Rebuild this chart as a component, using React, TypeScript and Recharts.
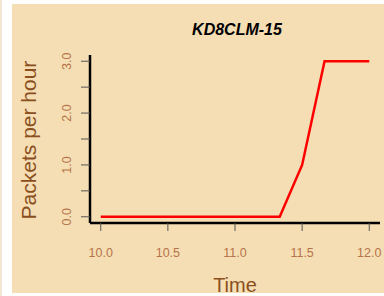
import React from "react";
import { LineChart, Line, XAxis, YAxis } from "recharts";

// time in hours, one sample every 10 minutes
const times = [10, 10.167, 10.333, 10.5, 10.667, 10.833, 11, 11.167, 11.333, 11.5, 11.667, 11.833, 12];
const packets = [0, 0, 0, 0, 0, 0, 0, 0, 0, 1, 3, 3, 3];

const xTicks = [10, 10.5, 11, 11.5, 12];
const yTicks = [0, 0.5, 1, 1.5, 2, 2.5, 3];
const yLabeled = [0, 1, 2, 3];

const data = times.map((t, i) => ({ t, v: packets[i] }));

const FONT = "'Liberation Sans', Arial, Helvetica, sans-serif";
const TICK_COLOR = "#b5744a";
const TITLE_COLOR = "#8b4f1e";

function XTick({ x, y, payload }: any) {
  return (
    <text x={x} y={y + 20} textAnchor="middle" dominantBaseline="central" fontSize={12.5} fontFamily={FONT} fill={TICK_COLOR}>
      {payload.value.toFixed(1)}
    </text>
  );
}

function YTick({ x, y, payload }: any) {
  if (!yLabeled.includes(payload.value)) return null;
  const cx = x - 12;
  return (
    <text x={cx} y={y} transform={`rotate(-90 ${cx} ${y})`} textAnchor="middle" dominantBaseline="central" fontSize={12.5} fontFamily={FONT} fill={TICK_COLOR}>
      {payload.value.toFixed(1)}
    </text>
  );
}

export default function App() {
  return (
    <div style={{ position: "relative", width: 384, height: 296, background: "#fff", overflow: "hidden", fontFamily: FONT }}>
      <style>{`body { margin: 0; }`}</style>
      <div style={{ position: "absolute", left: 0, top: 0, width: 2, height: 296, background: "#f3e6d2" }} />
      <div style={{ position: "absolute", left: 12, top: 4, width: 372, height: 289, background: "#f5deb3" }}>
        <LineChart width={372} height={289} data={data} margin={{ top: 51, right: 4, left: 0, bottom: 0 }}>
          <XAxis
            dataKey="t"
            type="number"
            domain={[9.92, 12.08]}
            ticks={xTicks}
            height={70}
            tick={<XTick />}
            tickSize={8}
            tickLine={{ stroke: "#555", strokeWidth: 1 }}
            axisLine={{ stroke: "#000", strokeWidth: 2.5 }}
          />
          <YAxis
            type="number"
            domain={[-0.12, 3.12]}
            ticks={yTicks}
            width={78}
            tick={<YTick />}
            tickSize={9}
            tickLine={{ stroke: "#555", strokeWidth: 1 }}
            axisLine={{ stroke: "#000", strokeWidth: 2.5 }}
          />
          <Line dataKey="v" stroke="#ff0000" strokeWidth={2.5} dot={false} isAnimationActive={false} />
        </LineChart>
        <div style={{ position: "absolute", left: 0, width: 372, textAlign: "center", top: 16, paddingLeft: 78, boxSizing: "border-box", fontSize: 16, fontWeight: "bold", fontStyle: "italic", color: "#000", lineHeight: "20px" }}>
          KD8CLM-15
        </div>
        <div style={{ position: "absolute", left: 78, width: 290, textAlign: "center", top: 269, fontSize: 20, color: TITLE_COLOR, lineHeight: "24px" }}>
          Time
        </div>
        <div style={{ position: "absolute", left: 17 - 100, top: 136 - 12, width: 200, textAlign: "center", transform: "rotate(-90deg)", fontSize: 21, color: TITLE_COLOR, lineHeight: "24px" }}>
          Packets per hour
        </div>
      </div>
    </div>
  );
}
